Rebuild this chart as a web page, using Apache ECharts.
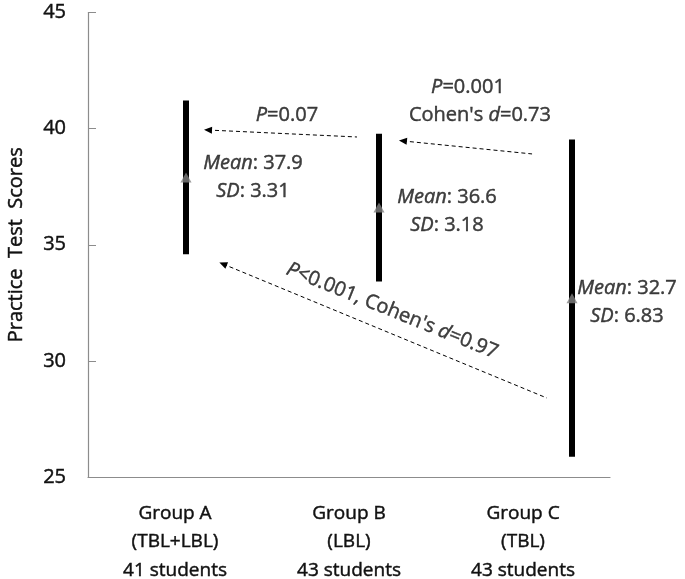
<!DOCTYPE html>
<html><head><meta charset="utf-8">
<script src="https://cdn.jsdelivr.net/npm/echarts@6/dist/echarts.min.js"></script>
<style>html,body{margin:0;padding:0;background:#fff}#c{width:685px;height:579px}</style>
</head><body><div id="c"></div><script>
// ---- data ----
const groupNames = ['Group A', 'Group B', 'Group C'];
const methods = ['(TBL+LBL)', '(LBL)', '(TBL)'];
const studentCounts = [41, 43, 43];
const means = [37.9, 36.6, 32.7];
const sds = [3.31, 3.18, 6.83];
const yMin = 25, yMax = 45, yStep = 5;
const yTitle = 'Practice  Test  Scores';
// comparison annotations (group-index units, score units)
const arrowHeads = [[0.114, 39.94], [1.124, 39.47], [0.192, 34.17]];
const arrowTails = [[0.886, 39.64], [1.793, 38.91], [1.870, 28.40]];
const annotationTexts = [
  '{i|P}=0.07',
  '{i|P}=0.001',
  'Cohen\'s {i|d}=0.73',
  '{i|P}<0.001, Cohen\'s {i|d}=0.97'
];
const annotationAnchors = [[0.523, 40.59], [1.461, 41.79], [1.523, 40.59], [1.068, 32.15]];

// ---- chart ----
const FONT = 'Open Sans';
const TXT = '#111';
const BW = 0.45; // slight stroke to thicken glyphs
const chart = echarts.init(document.getElementById('c'), null, {renderer: 'canvas'});
const categories = groupNames.map((g, i) => g + '\n' + methods[i] + '\n' + studentCounts[i] + ' students');
const labelShift = [[67, 0], [68, 4], [55, 4]];
const annoRotate = [0, 0, 0, -22];
const txt = (size, extra) => Object.assign({fontFamily: FONT, fontSize: size, color: TXT,
  textBorderColor: TXT, textBorderWidth: BW}, extra || {});

const option = {
  animation: false,
  backgroundColor: '#fff',
  grid: [
    {left: 88, right: 75, top: 12.5, bottom: 102, outerBoundsMode: 'none', containLabel: false},
    {left: 89.5, right: 16.5, top: 12.5, bottom: 102, outerBoundsMode: 'none', containLabel: false}
  ],
  xAxis: [
    {type: 'category', gridIndex: 0, data: categories, boundaryGap: true,
     axisLine: {lineStyle: {color: '#8c8c8c', width: 1.2}},
     axisTick: {show: false},
     axisLabel: txt(19, {interval: 0, margin: 22, lineHeight: 28.5})},
    {type: 'value', gridIndex: 1, min: -0.5, max: 2.5, show: false}
  ],
  yAxis: [
    {type: 'value', gridIndex: 0, min: yMin, max: yMax, interval: yStep,
     name: yTitle, nameLocation: 'middle', nameGap: 62,
     nameTextStyle: txt(20),
     axisLine: {show: true, lineStyle: {color: '#8c8c8c', width: 1.2}},
     axisTick: {show: true, inside: true, length: 8, lineStyle: {color: '#8c8c8c'}},
     splitLine: {show: false},
     axisLabel: txt(20, {margin: 22})},
    {type: 'value', gridIndex: 1, min: yMin, max: yMax, show: false}
  ],
  series: [
    {
      type: 'custom', xAxisIndex: 1, yAxisIndex: 1, silent: true,
      data: means.map((m, i) => [i, m, sds[i]]),
      renderItem: function (params, api) {
        const x = api.value(0), m = api.value(1), s = api.value(2);
        const top = api.coord([x, m + s]);
        const bot = api.coord([x, m - s]);
        return {type: 'rect', shape: {x: top[0] - 3, y: top[1], width: 6, height: bot[1] - top[1]},
                style: {fill: '#000'}};
      }
    },
    {
      type: 'scatter', xAxisIndex: 1, yAxisIndex: 1, silent: true,
      symbol: 'triangle', symbolSize: [11, 10],
      itemStyle: {color: '#808080'},
      data: means.map((m, i) => ({
        value: [i, m],
        label: txt(20, {
          show: true, position: 'inside', offset: labelShift[i], align: 'center',
          formatter: '{i|Mean}: ' + m.toFixed(1) + '\n{i|SD}: ' + sds[i].toFixed(2),
          lineHeight: 28,
          rich: {i: txt(20, {fontStyle: 'italic'})}
        })
      }))
    },
    {
      type: 'scatter', xAxisIndex: 1, yAxisIndex: 1, silent: true,
      symbolSize: 0,
      data: annotationAnchors.map((a, i) => ({
        value: a,
        label: txt(20, {
          show: true, position: 'inside', rotate: annoRotate[i], align: 'center',
          formatter: annotationTexts[i], lineHeight: 28,
          rich: {i: txt(20, {fontStyle: 'italic'})}
        })
      })),
      markLine: {
        silent: true, animation: false,
        symbol: ['triangle', 'none'], symbolSize: [7, 8],
        label: {show: false},
        lineStyle: {color: '#000', type: [4, 3], width: 1},
        data: arrowHeads.map((h, i) => [{coord: h}, {coord: arrowTails[i]}])
      }
    }
  ]
};
chart.setOption(option);
</script></body></html>
